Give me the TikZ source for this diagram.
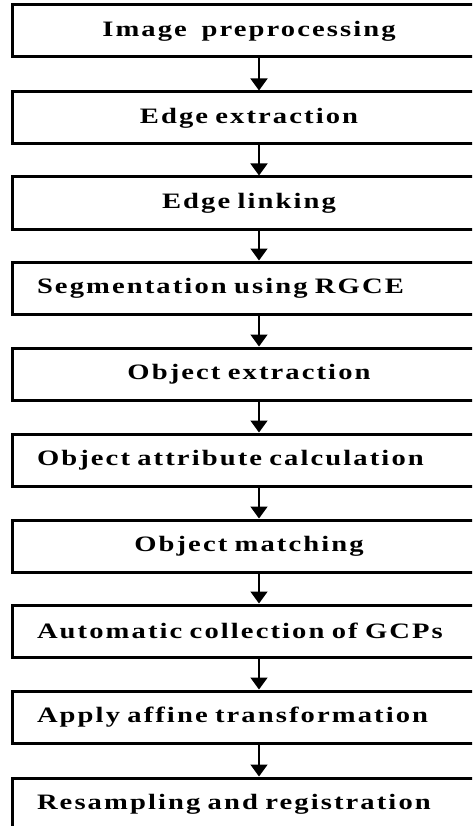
\documentclass[tikz,border=0pt]{standalone}
\usepackage{fontspec}
\newfontfamily\stepfont{Liberation Serif}[FakeStretch=1.3,LetterSpace=9.5,WordSpace=2]
\usetikzlibrary{arrows.meta}

\begin{document}
\begin{tikzpicture}[x=1pt,y=-1pt,
		stepbox/.style={draw,line width=3pt,minimum width=474pt,minimum height=52pt,
			inner xsep=25pt,text width=424pt,font=\stepfont\bfseries\fontsize{22}{26}\selectfont},
		flow/.style={line width=1.6pt,-{Triangle[width=17pt,length=12pt]}}]
		\clip (0,0) rectangle (472,826);
		\coordinate (Ax) at (259,0);

		\node[stepbox,align=center] (S1) at (249,31) {Image\ \ preprocessing};
		\node[stepbox,align=center] (S2) at (249,118) {Edge extraction};
		\node[stepbox,align=center] (S3) at (249,203) {Edge linking};
		\node[stepbox,align=left] (S4) at (249,288) {Segmentation using RGCE};
		\node[stepbox,align=center] (S5) at (249,374) {Object extraction};
		\node[stepbox,align=left] (S6) at (249,460) {Object attribute calculation};
		\node[stepbox,align=center] (S7) at (249,546) {Object matching};
		\node[stepbox,align=left] (S8) at (249,631) {Automatic collection of GCPs};
		\node[stepbox,align=left] (S9) at (249,717) {Apply affine transformation};
		\node[stepbox,align=left] (S10) at (249,804) {Resampling and registration};

		%arrows sit a little right of the box centres
		\draw[flow] (S1.south -| Ax)--(S2.north -| Ax);
		\draw[flow] (S2.south -| Ax)--(S3.north -| Ax);
		\draw[flow] (S3.south -| Ax)--(S4.north -| Ax);
		\draw[flow] (S4.south -| Ax)--(S5.north -| Ax);
		\draw[flow] (S5.south -| Ax)--(S6.north -| Ax);
		\draw[flow] (S6.south -| Ax)--(S7.north -| Ax);
		\draw[flow] (S7.south -| Ax)--(S8.north -| Ax);
		\draw[flow] (S8.south -| Ax)--(S9.north -| Ax);
		\draw[flow] (S9.south -| Ax)--(S10.north -| Ax);
\end{tikzpicture}
\end{document}
